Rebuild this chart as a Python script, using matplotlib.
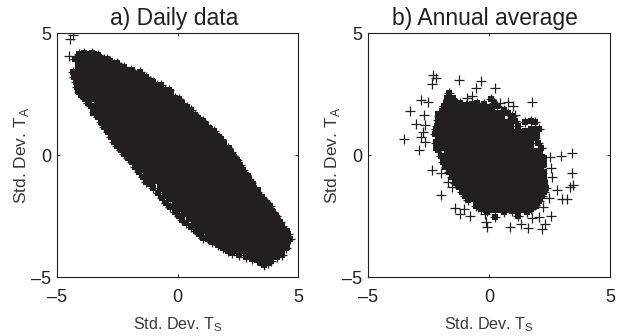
import matplotlib
matplotlib.use("Agg")
import matplotlib.pyplot as plt

plt.rcParams['font.family'] = ['Liberation Sans', 'DejaVu Sans']
plt.rcParams['mathtext.fontset'] = 'custom'
plt.rcParams['mathtext.rm'] = 'Liberation Sans'

INK = '#231f20'
GREY = '#3a3637'

# a) Daily data: the solid, overplotted part of the cloud, column by column
daily_core_x = [-4.0, -3.6, -3.2, -2.8, -2.4, -2.0, -1.6, -1.2, -0.8, -0.4, 0.0,
                0.4, 0.8, 1.2, 1.6, 2.0, 2.4, 2.8, 3.2, 3.6, 4.0, 4.4]
daily_core_y = [
    [3.9, 3.5, 3.1, 2.75],
    [4.0, 3.6, 3.2, 2.8, 2.4],
    [3.75, 3.35, 2.95, 2.55, 2.15, 1.75],
    [3.65, 3.25, 2.85, 2.45, 2.05, 1.65, 1.25],
    [3.5, 3.1, 2.7, 2.3, 1.9, 1.5, 1.1, 0.7],
    [3.35, 2.95, 2.55, 2.15, 1.75, 1.35, 0.95, 0.55, 0.25],
    [3.15, 2.75, 2.35, 1.95, 1.55, 1.15, 0.75, 0.35, -0.05, -0.25],
    [2.9, 2.5, 2.1, 1.7, 1.3, 0.9, 0.5, 0.1, -0.3, -0.65],
    [2.65, 2.25, 1.85, 1.45, 1.05, 0.65, 0.25, -0.15, -0.55, -0.95],
    [2.45, 2.05, 1.65, 1.25, 0.85, 0.45, 0.05, -0.35, -0.75, -1.15, -1.5],
    [2.05, 1.65, 1.25, 0.85, 0.45, 0.05, -0.35, -0.75, -1.15, -1.55, -1.95],
    [1.7, 1.3, 0.9, 0.5, 0.1, -0.3, -0.7, -1.1, -1.5, -1.9, -2.3],
    [1.3, 0.9, 0.5, 0.1, -0.3, -0.7, -1.1, -1.5, -1.9, -2.3, -2.7],
    [1.0, 0.6, 0.2, -0.2, -0.6, -1.0, -1.4, -1.8, -2.2, -2.6, -3.0],
    [0.6, 0.2, -0.2, -0.6, -1.0, -1.4, -1.8, -2.2, -2.6, -2.95, -3.25],
    [0.15, -0.25, -0.65, -1.05, -1.45, -1.85, -2.25, -2.65, -3.05, -3.45],
    [-0.4, -0.8, -1.2, -1.6, -2.0, -2.4, -2.8, -3.2, -3.6],
    [-1.0, -1.4, -1.8, -2.2, -2.6, -3.0, -3.4, -3.8],
    [-1.55, -1.95, -2.35, -2.75, -3.15, -3.55, -3.95, -4.15],
    [-2.2, -2.6, -3.0, -3.4, -3.8, -4.15, -4.3],
    [-2.7, -3.1, -3.5, -3.9],
    [-3.25, -3.65],
]
# a) solid points just inside the rim
daily_fill = [
    (-3.9, 2.6), (-3.8, 2.55), (-3.4, 1.85), (-3.0, 1.45), (-2.6, 0.95), (-2.2, 0.45), (-1.8, 0.05),
    (-1.4, -0.45), (-1.0, -0.85), (-0.6, -1.25), (-0.2, -1.7), (0.2, -2.1), (0.6, -2.5), (1.0, -2.85),
    (1.4, -3.15), (1.8, -3.45), (2.2, -3.65), (2.6, -3.8), (3.0, -3.95), (3.4, -4.1), (3.8, -4.05),
    (4.2, -3.75), (-3.4, 3.9), (-3.0, 3.7), (-2.6, 3.5), (-2.2, 3.35), (-1.8, 3.15), (-1.4, 2.95),
    (-1.0, 2.7), (-0.6, 2.5), (-0.2, 2.15), (0.2, 1.85), (0.6, 1.5), (1.0, 1.15), (1.4, 0.75),
    (1.8, 0.35), (2.2, -0.2), (2.6, -0.75), (3.0, -1.3), (3.4, -1.85), (3.8, -2.4), (4.2, -3.0),
]
# a) crosses along the rim of the cloud
daily_edge = [
    (-4.25, 3.95), (-4.1, 4.15), (-3.9, 4.2), (-3.72, 4.05), (-3.55, 4.2), (-3.3, 4.1), (-3.05, 3.95),
    (-2.92, 3.92), (-2.8, 3.85), (-2.65, 3.72), (-2.5, 3.75), (-2.35, 3.62), (-2.2, 3.6), (-1.95, 3.5),
    (-1.75, 3.32), (-1.55, 3.4), (-1.3, 3.2), (-1.15, 3.02), (-1.0, 3.0), (-0.85, 2.88), (-0.7, 2.85),
    (-0.52, 2.68), (-0.35, 2.65), (-0.1, 2.35), (0.05, 2.28), (0.2, 2.15), (0.38, 1.98), (0.55, 1.85),
    (0.72, 1.62), (0.85, 1.5), (1.05, 1.4), (1.2, 1.25), (1.35, 1.08), (1.5, 1.0), (1.65, 0.78),
    (1.8, 0.65), (1.95, 0.42), (2.1, 0.3), (2.2, 0.12), (2.3, -0.05), (2.45, -0.22), (2.6, -0.4),
    (2.72, -0.62), (2.85, -0.8), (2.95, -0.98), (3.05, -1.15), (3.18, -1.35), (3.3, -1.5), (3.45, -1.72),
    (3.6, -1.85), (3.72, -1.98), (3.85, -2.1), (3.98, -2.32), (4.1, -2.5), (4.25, -2.75), (4.32, -2.9),
    (4.4, -3.05), (4.6, -3.25), (4.65, -3.45),
    (-4.35, 3.4), (-4.28, 3.2), (-4.2, 3.0), (-4.15, 2.8), (-4.1, 2.6), (-3.85, 2.3), (-3.72, 2.15),
    (-3.6, 2.0), (-3.45, 1.75), (-3.3, 1.55), (-3.18, 1.35), (-3.05, 1.15), (-2.9, 0.95), (-2.75, 0.75),
    (-2.62, 0.52), (-2.5, 0.35), (-2.35, 0.22), (-2.2, 0.05), (-2.05, -0.12), (-1.9, -0.3), (-1.75, -0.48),
    (-1.6, -0.7), (-1.45, -0.9), (-1.3, -1.1), (-1.15, -1.2), (-1.0, -1.35), (-0.82, -1.55), (-0.65, -1.75),
    (-0.48, -1.95), (-0.3, -2.15), (-0.12, -2.32), (0.05, -2.5), (0.2, -2.65), (0.35, -2.8), (0.55, -2.95),
    (0.75, -3.1), (0.9, -3.25), (1.05, -3.4), (1.25, -3.45), (1.45, -3.55), (1.68, -3.7), (1.9, -3.8),
    (2.08, -3.92), (2.25, -4.0), (2.55, -4.08), (2.85, -4.2), (3.08, -4.25), (3.3, -4.3), (3.45, -4.4),
    (3.6, -4.5), (3.75, -4.42), (3.9, -4.35), (4.12, -4.2), (4.35, -4.1), (4.5, -3.8), (4.45, -3.5),
]
# a) isolated crosses
daily_outliers = [(-4.45, 4.75), (-4.35, 4.9), (-4.5, 4.05)]

# b) Annual average: the solid part of the cloud, column by column
annual_core_x = [-2.0, -1.6, -1.2, -0.8, -0.4, 0.0, 0.4, 0.8, 1.2, 1.6, 2.0]
annual_core_y = [
    [1.55, 1.15, 0.75, 0.45],
    [2.2, 1.8, 1.4, 1.0, 0.6, 0.2, -0.2, -0.3],
    [1.9, 1.5, 1.1, 0.7, 0.3, -0.1, -0.5, -0.9, -1.0],
    [1.8, 1.4, 1.0, 0.6, 0.2, -0.2, -0.6, -1.0, -1.3],
    [1.85, 1.45, 1.05, 0.65, 0.25, -0.15, -0.55, -0.95, -1.35, -1.75, -1.95],
    [1.85, 1.45, 1.05, 0.65, 0.25, -0.15, -0.55, -0.95, -1.35, -1.75, -2.15],
    [1.6, 1.2, 0.8, 0.4, 0.0, -0.4, -0.8, -1.2, -1.6, -2.0, -2.15],
    [1.25, 0.85, 0.45, 0.05, -0.35, -0.75, -1.15, -1.55, -1.95, -2.05],
    [0.8, 0.4, 0.0, -0.4, -0.8, -1.2, -1.6, -2.0, -2.15],
    [0.85, 0.45, 0.05, -0.35, -0.75, -1.15, -1.55, -1.95],
    [0.05, -0.35, -0.75, -1.15, -1.6],
]
# b) solid points just inside the rim
annual_fill = [
    (-2.05, 0.4), (-1.7, -0.35), (-1.4, -0.75), (-1.0, -1.25), (-0.6, -1.7), (-0.2, -2.05),
    (1.0, -2.1), (1.4, -2.15), (1.8, -1.95), (2.2, -1.25), (2.15, -0.8), (2.15, -0.25), (1.85, 0.95),
]
# b) rim of the cloud
annual_edge = [
    (-2.25, 0.85), (-2.2, 1.05), (-2.15, 1.2), (-2.1, 1.42), (-2.05, 1.6), (-1.95, 1.82), (-1.85, 2.0),
    (-1.78, 2.15), (-1.7, 2.3), (-1.65, 2.55), (-1.45, 2.2), (-1.32, 2.12), (-1.2, 2.15), (-0.95, 2.05),
    (-0.72, 2.1), (-0.5, 2.15), (-0.2, 2.1), (0.1, 2.3), (0.22, 2.12), (0.35, 2.0), (0.6, 1.85), (0.78, 1.72),
    (0.95, 1.6), (1.08, 1.38), (1.2, 1.2), (1.5, 1.35), (1.72, 1.38), (1.9, 1.35), (2.05, 1.05), (1.9, 0.7),
    (2.02, 0.5), (2.15, 0.3), (2.2, -0.1), (2.15, -0.5), (2.18, -0.75), (2.2, -1.0), (2.35, -1.35), (2.28, -1.52),
    (2.2, -1.7), (2.05, -1.88), (1.9, -2.05), (1.72, -2.2), (1.55, -2.35), (1.2, -2.5), (0.95, -2.3),
    (0.6, -2.35), (0.25, -2.55), (-0.1, -2.3), (-0.32, -2.2), (-0.55, -2.1), (-0.85, -1.85), (-0.98, -1.68),
    (-1.1, -1.5), (-1.25, -1.32), (-1.4, -1.15), (-1.52, -0.92), (-1.65, -0.7), (-1.78, -0.5), (-1.9, -0.3),
    (-2.0, -0.05), (-2.1, 0.2), (-2.18, 0.5),
]
# b) isolated crosses
annual_outliers = [
    (-3.52, 0.66), (-3.27, 1.81), (-3.02, 1.27), (-2.90, 0.21), (-2.79, 2.26), (-2.51, 2.19),
    (-2.69, 1.64), (-2.65, 1.23), (-2.72, 0.96), (-2.81, 0.75), (-2.65, 0.55), (-2.34, -0.62),
    (-1.99, -0.73), (-1.99, -1.62), (-1.68, -1.10), (-1.54, -1.30), (-1.41, -2.19), (-1.20, -2.40),
    (-1.03, -2.23), (-0.79, -2.51), (-0.44, -2.12), (-0.17, -2.40), (-0.14, -2.74), (-0.10, -2.95),
    (0.87, -2.97), (1.31, -2.84), (1.63, -3.01), (1.77, -2.60), (2.18, -3.05), (2.07, -2.53),
    (2.32, -2.81), (2.57, -2.49), (2.25, -2.12), (2.46, -1.78), (2.80, -1.44), (3.01, -1.82),
    (3.21, -1.81), (3.35, -1.30), (3.49, -1.23), (3.45, -0.75), (3.42, 0.10), (2.97, -0.03),
    (2.50, -0.10), (2.55, -0.55), (2.59, -0.89), (1.79, 2.19), (1.01, 1.99), (0.77, 2.19),
    (0.46, 2.12), (0.25, 2.74), (-0.33, 3.04), (-0.55, 2.74), (-1.24, 3.08), (-2.17, 3.15),
    (-2.30, 3.29), (-2.37, 2.90), (-0.72, 2.40), (-0.92, 2.33), (1.08, 1.64), (0.94, 1.51),
]

titles = ['a) Daily data', 'b) Annual average']
xlabel = 'Std. Dev. T$_{\\mathregular{S}}$'
ylabel = 'Std. Dev. T$_{\\mathregular{A}}$'
ticks = [-5, 0, 5]
tick_labels = ['\u20135', '0', '5']

W, H = 629, 336
fig = plt.figure(figsize=(W / 100, H / 100), dpi=100)
boxes = [(57, 298), (368, 610)]
top, bottom = 33, 277


def draw(ax, core_x, core_y, fill, rim, lone, title):
    xs = [x for x, col in zip(core_x, core_y) for _ in col] + [p[0] for p in fill]
    ys = [y for col in core_y for y in col] + [p[1] for p in fill]
    ax.scatter(xs, ys, marker='s', s=72, color=INK, linewidths=0, zorder=2)
    rx = [p[0] for p in rim]
    ry = [p[1] for p in rim]
    # the rim crosses overlap so heavily that their centres merge into the solid cloud
    ax.scatter(rx, ry, marker='s', s=22, color=INK, linewidths=0, zorder=2)
    ax.scatter(rx, ry, marker='+', s=48, color=INK, linewidths=0.9, zorder=3)
    ax.scatter([p[0] for p in lone], [p[1] for p in lone], marker='+', s=48,
               color=INK, linewidths=0.9, zorder=3)
    ax.set_xlim(-5, 5)
    ax.set_ylim(-5, 5)
    ax.set_xticks(ticks, tick_labels)
    ax.set_yticks(ticks, tick_labels)
    ax.tick_params(direction='in', length=2.5, width=0.7, top=True, right=True,
                   labelsize=13, colors=INK)
    ax.tick_params(axis='x', pad=9)
    ax.tick_params(axis='y', pad=4)
    for s in ax.spines.values():
        s.set_linewidth(0.8)
        s.set_color(INK)
    ax.set_title(title, fontsize=16.5, color=INK, pad=6, x=0.485)
    ax.set_xlabel(xlabel, fontsize=11.6, color=GREY, labelpad=6)
    ax.set_ylabel(ylabel, fontsize=12.5, color=GREY, labelpad=0)


for (x0, x1), cx, cy, fill, rim, lone, t in zip(
        boxes,
        [daily_core_x, annual_core_x],
        [daily_core_y, annual_core_y],
        [daily_fill, annual_fill],
        [daily_edge, annual_edge],
        [daily_outliers, annual_outliers],
        titles):
    ax = fig.add_axes([x0 / W, 1 - bottom / H, (x1 - x0) / W, (bottom - top) / H])
    draw(ax, cx, cy, fill, rim, lone, t)

fig.savefig('out.png', dpi=100)
